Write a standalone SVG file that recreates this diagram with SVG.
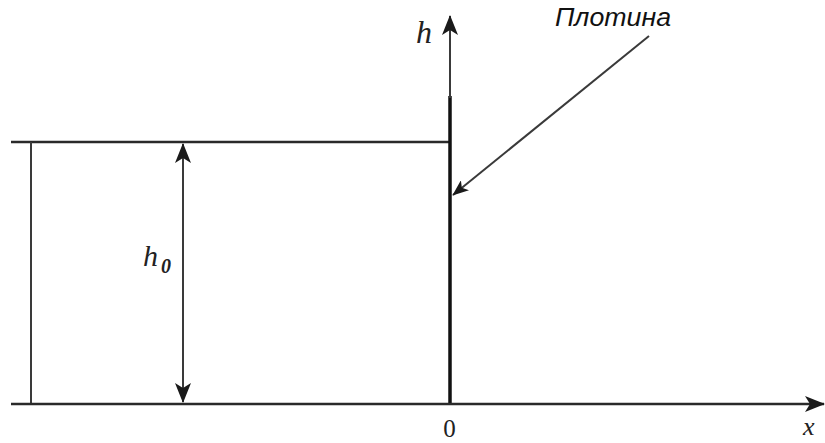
<svg xmlns="http://www.w3.org/2000/svg" width="825" height="443" viewBox="0 0 825 443">
<style>
.ln{stroke:#2a2a2a;stroke-width:2.6;fill:none}
.thin{stroke:#3a3a3a;stroke-width:2;fill:none}
.dam{stroke:#111;stroke-width:3.5;fill:none}
.ser{font-family:"Liberation Serif","Times New Roman",serif;font-style:italic;fill:#222}
.sans{font-family:"Liberation Sans",Arial,sans-serif;font-style:italic;fill:#111}
</style>
<defs>
<marker id="ah" viewBox="0 0 20 16" refX="19" refY="8" markerWidth="20" markerHeight="16" markerUnits="userSpaceOnUse" orient="auto-start-reverse">
<path d="M0,0 L20,8 L0,16 L5,8 Z" fill="#1a1a1a"/>
</marker>
<marker id="ahs" viewBox="0 0 20 16" refX="19" refY="8" markerWidth="17" markerHeight="13" markerUnits="userSpaceOnUse" orient="auto">
<path d="M0,0 L20,8 L0,16 L5,8 Z" fill="#1a1a1a"/>
</marker>
</defs>
<g id="water">
<line class="ln" x1="11" y1="142" x2="450" y2="142"/>
<line class="thin" x1="31" y1="142" x2="31" y2="404"/>
</g>
<g id="dam">
<line class="dam" x1="450" y1="96" x2="450" y2="404"/>
</g>
<g id="connectors">
<line class="thin" x1="450" y1="98" x2="450" y2="16" marker-end="url(#ah)"/>
<line class="ln" x1="11" y1="404" x2="824" y2="404" marker-end="url(#ah)"/>
<line class="thin" x1="183" y1="144" x2="183" y2="402" marker-start="url(#ah)" marker-end="url(#ah)"/>
<line class="thin" x1="649" y1="36" x2="453" y2="195" marker-end="url(#ahs)"/>
</g>
<g id="labels">
<text class="sans" x="555" y="26" font-size="25" textLength="116" lengthAdjust="spacingAndGlyphs">Плотина</text>
<text class="ser" x="416" y="43" font-size="32">h</text>
<text class="ser" x="143" y="266" font-size="30">h</text>
<text class="ser" x="161" y="273" font-size="20" font-weight="bold">0</text>
<text x="449.5" y="437" font-size="25" text-anchor="middle" font-family="Liberation Serif, Times New Roman, serif" fill="#222">0</text>
<text class="ser" x="803" y="435" font-size="26">x</text>
</g>
</svg>
